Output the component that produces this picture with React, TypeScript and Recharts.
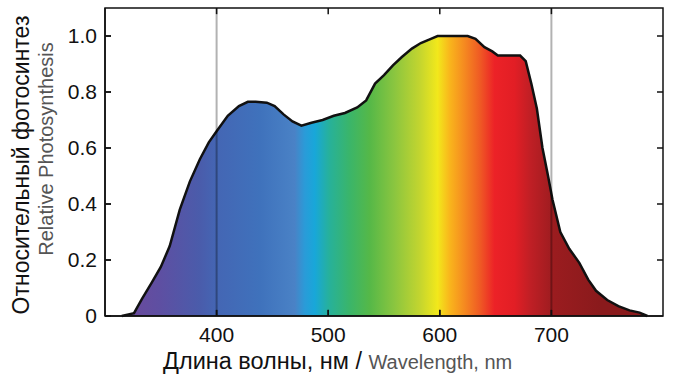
import React from "react";
import {
  AreaChart,
  Area,
  XAxis,
  YAxis,
  ReferenceLine,
} from "recharts";

// wavelength (nm) and relative photosynthesis
const wavelengths = [
  315, 320, 326, 333, 342, 350, 358, 367, 376, 385, 393, 400, 410, 420, 428,
  435, 445, 452, 460, 468, 476, 485, 495, 505, 515, 526, 534, 542, 550, 558,
  566, 575, 583, 592, 598, 610, 625, 632, 640, 647, 652, 660, 672, 677, 682,
  687, 692, 697, 701, 708, 716, 725, 733, 740, 750, 760, 770, 779, 786,
];
const response = [
  0, 0.005, 0.01, 0.06, 0.12, 0.175, 0.25, 0.38, 0.48, 0.56, 0.62, 0.66,
  0.715, 0.75, 0.765, 0.765, 0.762, 0.75, 0.72, 0.695, 0.68, 0.69, 0.7, 0.715,
  0.725, 0.745, 0.77, 0.83, 0.86, 0.895, 0.925, 0.955, 0.975, 0.99, 1.0, 1.0,
  1.0, 0.99, 0.96, 0.945, 0.93, 0.93, 0.93, 0.91, 0.83, 0.74, 0.6, 0.5, 0.415,
  0.3, 0.24, 0.19, 0.13, 0.09, 0.057, 0.035, 0.02, 0.012, 0,
];
const xTicks = [400, 500, 600, 700];
const yTicks = [0, 0.2, 0.4, 0.6, 0.8, 1.0];
const gridLines = [400, 700];
const xDomain = [300, 800];
const yDomain = [0, 1.1];

// spectrum colours by wavelength
const spectrumNm = [
  322, 349, 385, 400, 439, 470, 479, 488, 501, 519, 537, 560, 582, 598, 609,
  622, 636, 649, 667, 681, 703, 744,
];
const spectrumColors = [
  "#6a4a9c", "#5e4fa2", "#4a5cab", "#4466b4", "#3f72bc", "#4a82c6", "#2a9bd8",
  "#18a7d9", "#27b19a", "#3ab56a", "#55b848", "#8cc63f", "#c3d52f", "#f2e81b",
  "#f9b51c", "#f58a20", "#ef5a24", "#ec2227", "#e21e25", "#c01f25", "#9a1c1f",
  "#8a1a1c",
];

const data = wavelengths.map((nm, i) => ({ nm, value: response[i] }));
const minNm = wavelengths[0];
const maxNm = wavelengths[wavelengths.length - 1];

const FONT = "'Liberation Sans', Arial, sans-serif";
const FRAME = "#111";
const line = { stroke: FRAME, strokeWidth: 1.5 };
// chart box and plot margins
const W = 673;
const H = 375;
const M = { top: 8, right: 10, left: 105, bottom: 59 };
// inward tick length (~6px) in data units
const TICK_X = 5.4;
const TICK_Y = 0.022;

// axis titles and the plot frame, drawn over the chart in their own svg
const Overlay = () => (
  <svg
    width={W}
    height={H}
    style={{ position: "absolute", left: 0, top: 0, pointerEvents: "none" }}
    fontFamily={FONT}
  >
    <rect
      x={M.left}
      y={M.top}
      width={W - M.left - M.right}
      height={H - M.top - M.bottom}
      fill="none"
      stroke={FRAME}
      strokeWidth={1.5}
    />
    <text
      x={21}
      y={165}
      fontSize={23}
      textAnchor="middle"
      dominantBaseline="central"
      fill="#111"
      transform="rotate(-90, 21, 165)"
    >
      Относительный фотосинтез
    </text>
    <text
      x={46}
      y={149}
      fontSize={20}
      textAnchor="middle"
      dominantBaseline="central"
      fill="#555"
      transform="rotate(-90, 46, 149)"
    >
      Relative Photosynthesis
    </text>
    <text x={163} y={369} textAnchor="start">
      <tspan fill="#111" fontSize={23.5}>Длина волны, нм / </tspan>
      <tspan fill="#555" fontSize={20}>Wavelength, nm</tspan>
    </text>
  </svg>
);

export default function App() {
  const [x0, x1] = xDomain;
  const [y0, y1] = yDomain;
  return (
    <div style={{ position: "absolute", left: 0, top: 0, background: "#fff" }}>
      <AreaChart
        width={W}
        height={H}
        data={data}
        margin={{ top: M.top, right: M.right, bottom: 0, left: 0 }}
      >
        <defs>
          <linearGradient id="spectrum" x1="0" y1="0" x2="1" y2="0">
            {spectrumNm.map((nm, i) => (
              <stop
                key={nm}
                offset={Math.min(1, Math.max(0, (nm - minNm) / (maxNm - minNm)))}
                stopColor={spectrumColors[i]}
              />
            ))}
          </linearGradient>
        </defs>
        <XAxis
          dataKey="nm"
          type="number"
          domain={xDomain}
          ticks={xTicks}
          height={M.bottom}
          tickSize={-6}
          tickMargin={17}
          axisLine={line}
          tickLine={line}
          tick={{ fill: "#111", fontSize: 21, fontFamily: FONT }}
        />
        <YAxis
          type="number"
          domain={yDomain}
          ticks={yTicks}
          width={M.left}
          tickSize={-6}
          tickMargin={14}
          tickFormatter={(v: number) => (v === 0 ? "0" : v.toFixed(1))}
          axisLine={line}
          tickLine={line}
          tick={{ fill: "#111", fontSize: 21, fontFamily: FONT }}
        />
        <Area
          type="linear"
          dataKey="value"
          stroke="#111"
          strokeWidth={2.5}
          fill="url(#spectrum)"
          fillOpacity={1}
          isAnimationActive={false}
          dot={false}
          activeDot={false}
        />
        {gridLines.map((nm) => (
          <ReferenceLine
            key={nm}
            x={nm}
            stroke="#000"
            strokeOpacity={0.3}
            strokeWidth={2}
          />
        ))}
        {/* inward tick marks on all four edges */}
        {xTicks.map((t) => (
          <ReferenceLine
            key={`b${t}`}
            segment={[{ x: t, y: y0 + 0.002 }, { x: t, y: y0 + TICK_Y }]}
            ifOverflow="visible"
            stroke={FRAME}
            strokeWidth={1.5}
          />
        ))}
        {xTicks.map((t) => (
          <ReferenceLine
            key={`t${t}`}
            segment={[{ x: t, y: y1 }, { x: t, y: y1 - TICK_Y }]}
            ifOverflow="visible"
            stroke={FRAME}
            strokeWidth={1.5}
          />
        ))}
        {yTicks.slice(1).map((t) => (
          <ReferenceLine
            key={`l${t}`}
            segment={[{ x: x0 + 0.5, y: t }, { x: x0 + TICK_X, y: t }]}
            ifOverflow="visible"
            stroke={FRAME}
            strokeWidth={1.5}
          />
        ))}
        {yTicks.slice(1).map((t) => (
          <ReferenceLine
            key={`r${t}`}
            segment={[{ x: x1, y: t }, { x: x1 - TICK_X, y: t }]}
            ifOverflow="visible"
            stroke={FRAME}
            strokeWidth={1.5}
          />
        ))}
      </AreaChart>
      <Overlay />
    </div>
  );
}
